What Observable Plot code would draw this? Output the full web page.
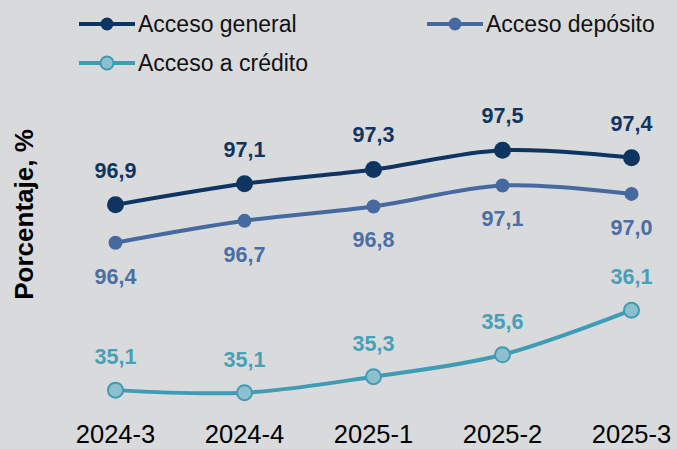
<!DOCTYPE html>
<html>
<head>
<meta charset="utf-8">
<script src="https://cdn.jsdelivr.net/npm/d3@7"></script>
<script src="https://cdn.jsdelivr.net/npm/@observablehq/plot@0.6"></script>
<style>
  html, body { margin: 0; padding: 0; background: #d9dadc; }
  #wrap { width: 677px; height: 449px; background: #d9dadc; font-family: "Liberation Sans", Arial, sans-serif; overflow: hidden; }
  #legend { position: relative; width: 677px; height: 76px; }
  .item { position: absolute; display: flex; align-items: center; height: 30px; }
  .item span { font-size: 23px; color: #111; margin-left: 3px; white-space: nowrap; }
</style>
</head>
<body>
<div id="wrap">
  <div id="legend"></div>
  <div id="chart"></div>
</div>
<script>
// ---- data ----
const categories = ["2024-3", "2024-4", "2025-1", "2025-2", "2025-3"];
const accesoGeneral = [96.86, 97.11, 97.28, 97.51, 97.42];
const accesoDeposito = [96.41, 96.67, 96.84, 97.09, 96.99];
const accesoCredito = [35.14, 35.11, 35.30, 35.56, 36.09];
const seriesNames = ["Acceso general", "Acceso depósito", "Acceso a crédito"];
// secondary axis of the credit series, aligned onto the primary axis
const creditOffset = 59.517;

const colors = {
  general: "#0e3562",
  deposito: "#46699f",
  credito: "#3e9cb4",
  creditoFill: "#8ebfce",
  depLabel: "#4a6ea5",
  credLabel: "#47a0b8"
};

const rows = categories.map((q, i) => ({
  q, g: accesoGeneral[i], d: accesoDeposito[i], c: accesoCredito[i], c2: accesoCredito[i] + creditOffset
}));
const fmt = v => d3.format(".1f")(v).replace(".", ",");

// ---- legend ----
const legendItems = [
  {name: seriesNames[0], left: 79, top: 9, stroke: colors.general, fill: colors.general, r: 6.5, sw: 0},
  {name: seriesNames[1], left: 427, top: 9, stroke: colors.deposito, fill: colors.deposito, r: 6.5, sw: 0},
  {name: seriesNames[2], left: 79, top: 48, stroke: colors.credito, fill: colors.creditoFill, r: 6.5, sw: 2}
];
const legend = document.getElementById("legend");
legendItems.forEach(it => {
  const div = document.createElement("div");
  div.className = "item";
  div.style.left = it.left + "px";
  div.style.top = it.top + "px";
  div.innerHTML = `<svg width="56" height="30"><line x1="0" x2="56" y1="15" y2="15" stroke="${it.stroke}" stroke-width="4"/><circle cx="28" cy="15" r="${it.r}" fill="${it.fill}" stroke="${it.stroke}" stroke-width="${it.sw}"/></svg><span>${it.name}</span>`;
  legend.appendChild(div);
});

// ---- chart ----
const H = 373;
const lineOpts = {x: "q", curve: "cardinal", tension: 0, strokeWidth: 4};
const labelOpts = {x: "q", fontWeight: "bold", fontSize: 21.5, fontFamily: "Liberation Sans, Arial, sans-serif"};

const chart = Plot.plot({
  width: 677,
  height: H,
  marginTop: 0,
  marginLeft: 0,
  marginRight: 0,
  marginBottom: 25,
  style: {background: "transparent", fontFamily: "Liberation Sans, Arial, sans-serif", overflow: "visible"},
  x: {type: "point", domain: categories, range: [113, 632], padding: 0, label: null},
  y: {domain: [94, 98], range: [368.88, 32.48], axis: null},
  marks: [
    Plot.line(rows, {...lineOpts, y: "c2", stroke: colors.credito}),
    Plot.line(rows, {...lineOpts, y: "d", stroke: colors.deposito}),
    Plot.line(rows, {...lineOpts, y: "g", stroke: colors.general}),
    Plot.dot(rows, {x: "q", y: "c2", r: 7.5, fill: colors.creditoFill, stroke: colors.credito, strokeWidth: 2}),
    Plot.dot(rows, {x: "q", y: "d", r: 7, fill: colors.deposito}),
    Plot.dot(rows, {x: "q", y: "g", r: 8.5, fill: colors.general}),
    Plot.text(rows, {...labelOpts, y: "g", text: d => fmt(d.g), dy: -34, fill: colors.general}),
    Plot.text(rows, {...labelOpts, y: "d", text: d => fmt(d.d), dy: 34, fill: colors.depLabel}),
    Plot.text(rows, {...labelOpts, y: "c2", text: d => fmt(d.c), dy: -33, fill: colors.credLabel}),
    Plot.axisX({tickSize: 0, tickPadding: 0, fontSize: 25.5, fill: "#000", label: null}),
    Plot.text(["Porcentaje, %"], {frameAnchor: "left", textAnchor: "middle", dx: 32, dy: -36, rotate: -90, lineAnchor: "bottom", fontWeight: "bold", fontSize: 26, fill: "#000"})
  ]
});
document.getElementById("chart").appendChild(chart);
</script>
</body>
</html>
